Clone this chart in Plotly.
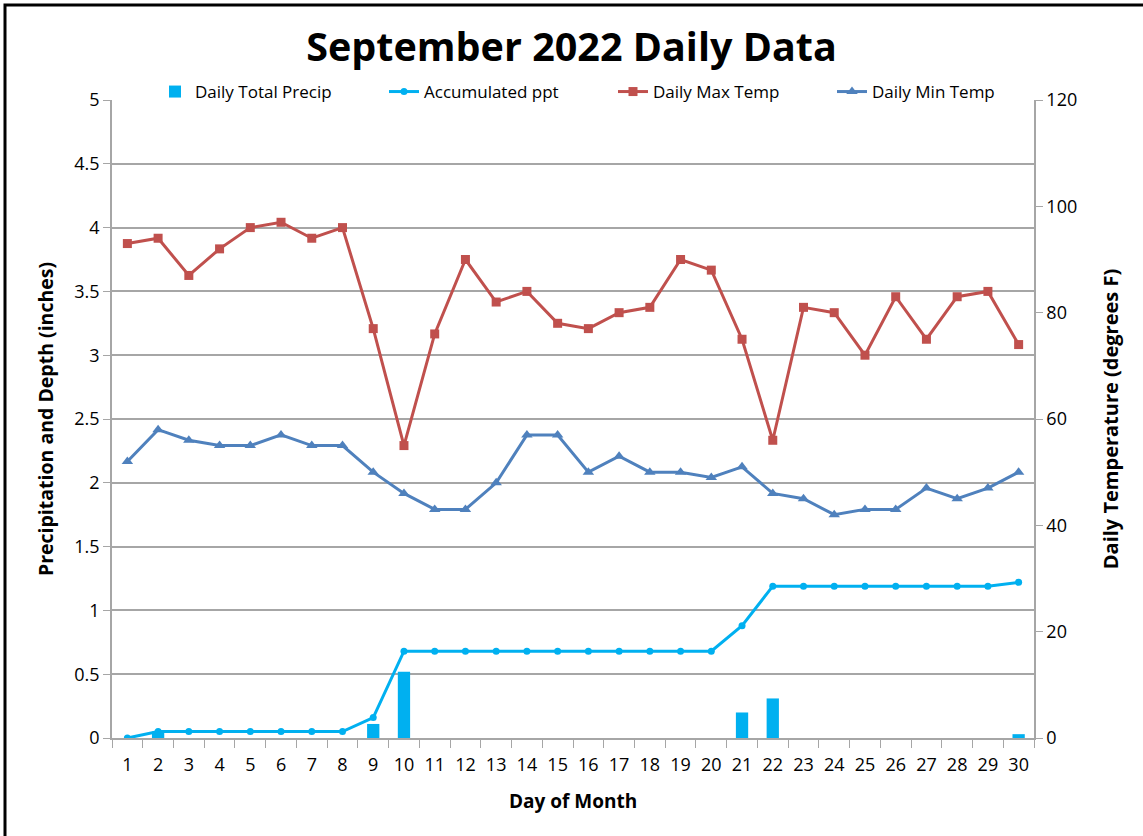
import plotly.graph_objects as go

days = [str(d) for d in range(1, 31)]
daily_precip = [0, 0.05, 0, 0, 0, 0, 0, 0, 0.11, 0.52, 0, 0, 0, 0, 0, 0, 0, 0, 0, 0,
                0.20, 0.31, 0, 0, 0, 0, 0, 0, 0, 0.03]
accum_ppt = [0, 0.05, 0.05, 0.05, 0.05, 0.05, 0.05, 0.05, 0.16, 0.68, 0.68, 0.68, 0.68, 0.68,
             0.68, 0.68, 0.68, 0.68, 0.68, 0.68, 0.88, 1.19, 1.19, 1.19, 1.19, 1.19, 1.19,
             1.19, 1.19, 1.22]
max_temp = [93, 94, 87, 92, 96, 97, 94, 96, 77, 55, 76, 90, 82, 84, 78, 77, 80, 81, 90, 88,
            75, 56, 81, 80, 72, 83, 75, 83, 84, 74]
min_temp = [52, 58, 56, 55, 55, 57, 55, 55, 50, 46, 43, 43, 48, 57, 57, 50, 53, 50, 50, 49,
            51, 46, 45, 42, 43, 43, 47, 45, 47, 50]
left_ticks = [0, 0.5, 1, 1.5, 2, 2.5, 3, 3.5, 4, 4.5, 5]
right_ticks = [0, 20, 40, 60, 80, 100, 120]

FONT = "Open Sans, Liberation Sans, sans-serif"
PRECIP = "#00B0F0"
MAXC = "#C0504D"
MINC = "#4F81BD"
GRID = "#A6A6A6"

fig = go.Figure()
fig.add_trace(go.Bar(x=days, y=daily_precip, name="Daily Total Precip", legend="legend",
                     marker=dict(color=PRECIP, line=dict(width=0)), width=0.4))
fig.add_trace(go.Scatter(x=days, y=accum_ppt, name="Accumulated ppt", mode="lines+markers", legend="legend2",
                         line=dict(color=PRECIP, width=3), marker=dict(symbol="circle", size=7, color=PRECIP)))
fig.add_trace(go.Scatter(x=days, y=max_temp, name="Daily Max Temp", mode="lines+markers", yaxis="y2",
                         legend="legend3",
                         line=dict(color=MAXC, width=3), marker=dict(symbol="square", size=9, color=MAXC)))
fig.add_trace(go.Scatter(x=days, y=min_temp, name="Daily Min Temp", mode="lines+markers", yaxis="y2",
                         legend="legend4",
                         line=dict(color=MINC, width=3), marker=dict(symbol="triangle-up", size=10, color=MINC)))

W, H = 1143, 836
L, R, T, B = 112, 109, 100, 98
pw, ph = W - L - R, H - T - B


def leg(px_text):
    return dict(orientation="h", x=(px_text - 41 - L) / pw, xanchor="left",
                y=(H - B - 92) / ph, yanchor="middle",
                font=dict(size=17, family=FONT), bgcolor="rgba(0,0,0,0)")


fig.update_layout(
    width=W, height=H,
    margin=dict(l=L, r=R, t=T, b=B, autoexpand=False),
    paper_bgcolor="white", plot_bgcolor="white",
    font=dict(family=FONT, size=18, color="black"),
    title=dict(text="<b>September 2022 Daily Data</b>", x=0.5, xanchor="center", y=1 - 47 / H, yanchor="middle",
               font=dict(size=39.5, family=FONT, color="black")),
    showlegend=True,
    legend=leg(196), legend2=leg(425), legend3=leg(654), legend4=leg(873),
    xaxis=dict(type="category", range=[-0.5, 29.5], tickson="boundaries", ticks="outside", ticklen=8,
               tickcolor=GRID, tickangle=0, ticklabelstandoff=10,
               showline=True, linecolor=GRID, linewidth=1.5, showgrid=False,
               title=dict(text="<b>Day of Month</b>", font=dict(size=19), standoff=19),
               tickfont=dict(size=18)),
    yaxis=dict(range=[0, 5], tickvals=left_ticks, ticktext=[f"{v:g}" for v in left_ticks],
               showgrid=True, gridcolor=GRID, gridwidth=1.5, zeroline=False,
               showline=True, linecolor=GRID, linewidth=1.5, ticks="outside", ticklen=7, tickcolor=GRID,
               title=dict(text="<b>Precipitation and Depth (inches)</b>", font=dict(size=19.5), standoff=16),
               tickfont=dict(size=18)),
    yaxis2=dict(range=[0, 120], tickvals=right_ticks, overlaying="y", side="right",
                showgrid=False, zeroline=False, showline=True, linecolor=GRID, linewidth=1.5,
                ticks="outside", ticklen=7, tickcolor=GRID,
                title=dict(text="<b>Daily Temperature (degrees F)</b>", font=dict(size=20), standoff=28),
                tickfont=dict(size=18)),
    shapes=[dict(type="rect", xref="paper", yref="paper",
                 x0=(5 - L) / pw, x1=(W + 60 - L) / pw, y0=-(60 + B) / ph, y1=(H - 5 - B) / ph,
                 line=dict(color="black", width=3), fillcolor="rgba(0,0,0,0)", layer="above")],
)

fig.write_html("out.html", config={"displayModeBar": False},
               post_script="document.body.style.margin='0';")
